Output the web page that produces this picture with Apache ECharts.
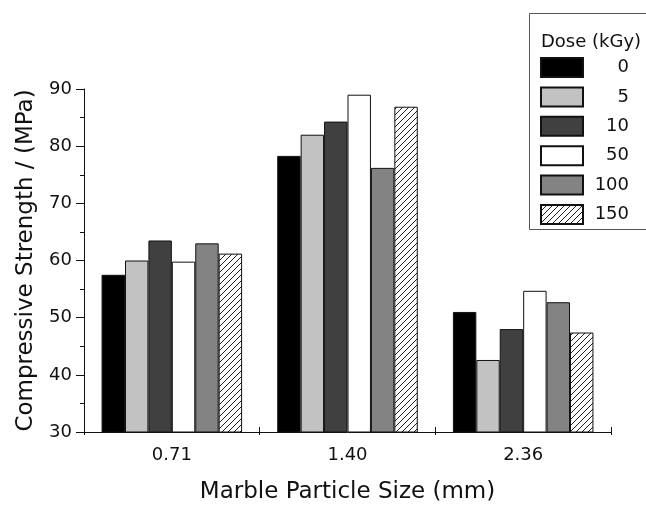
<!DOCTYPE html>
<html>
<head>
<meta charset="utf-8">
<script src="https://cdn.jsdelivr.net/npm/echarts@6/dist/echarts.min.js"></script>
<style>
html,body{margin:0;padding:0;background:#fff;}
#chart{width:646px;height:505px;}
</style>
</head>
<body>
<div id="chart"></div>
<script>
// Data
const categories = ['0.71', '1.40', '2.36'];
const doseNames = ['0', '5', '10', '50', '100', '150'];
const dose0 = [57.5, 78.3, 51.0];
const dose5 = [60.0, 82.0, 42.6];
const dose10 = [63.5, 84.3, 48.0];
const dose50 = [59.8, 89.0, 54.7];
const dose100 = [63.0, 76.2, 52.7];
const dose150 = [61.2, 86.9, 47.4];
const yTicks = [30, 40, 50, 60, 70, 80, 90];

const seriesValues = [dose0, dose5, dose10, dose50, dose100, dose150];

// hatch pattern
const pc = document.createElement('canvas');
pc.width = 6; pc.height = 6;
const g = pc.getContext('2d');
g.fillStyle = '#fff';
g.fillRect(0, 0, 6, 6);
g.strokeStyle = '#222';
g.lineWidth = 1;
g.beginPath();
g.moveTo(0, 6); g.lineTo(6, 0);
g.moveTo(-1, 1); g.lineTo(1, -1);
g.moveTo(5, 7); g.lineTo(7, 5);
g.stroke();

const fills = ['#000000', '#c2c2c2', '#404040', '#ffffff', '#838383', { image: pc, repeat: 'repeat' }];

const FONT = 'DejaVu Sans';
const chart = echarts.init(document.getElementById('chart'), null, { renderer: 'canvas' });

const series = seriesValues.map((vals, i) => ({
  name: doseNames[i],
  type: 'bar',
  xAxisIndex: 0,
  yAxisIndex: 0,
  data: vals,
  barGap: '0%',
  barCategoryGap: '20%',
  itemStyle: { color: fills[i], borderColor: '#111', borderWidth: 1 },
  emphasis: { disabled: true }
}));

chart.setOption({
  animation: false,
  backgroundColor: '#fff',
  grid: { left: 84, right: 35, top: 89, bottom: 73, containLabel: false, outerBoundsMode: 'none' },
  legend: {
    data: doseNames,
    orient: 'vertical',
    left: 540,
    top: 57,
    padding: 0,
    itemWidth: 42,
    itemHeight: 19,
    itemGap: 8.4,
    icon: 'rect',
    selectedMode: false,
    formatter: n => '{r|' + n + '}',
    textStyle: {
      fontFamily: FONT,
      fontSize: 18,
      color: '#111',
      rich: { r: { width: 41, align: 'right', fontFamily: FONT, fontSize: 18, lineHeight: 19, color: '#111' } }
    }
  },
  graphic: [{
    type: 'rect',
    shape: { x: 529.5, y: 13.5, width: 140, height: 216 },
    style: { fill: 'none', stroke: '#555', lineWidth: 1 },
    silent: true
  }, {
    type: 'text',
    left: 541,
    top: 33,
    style: { text: 'Dose (kGy)', font: '18px "DejaVu Sans"', fill: '#111' }
  }],
  xAxis: [{
    type: 'category',
    data: categories,
    position: 'bottom',
    axisLine: { lineStyle: { color: '#111', width: 1 } },
    axisTick: { show: true, length: 3, lineStyle: { color: '#111' } },
    axisLabel: { fontFamily: FONT, fontSize: 18, color: '#111', margin: 14 },
    name: 'Marble Particle Size (mm)',
    nameLocation: 'middle',
    nameGap: 49,
    nameTextStyle: { fontFamily: FONT, fontSize: 23, color: '#111' }
  }, {
    type: 'category',
    data: categories,
    position: 'bottom',
    axisLine: { show: false },
    axisTick: { show: true, inside: true, length: 5, lineStyle: { color: '#111' } },
    axisLabel: { show: false }
  }],
  yAxis: {
    type: 'value',
    min: yTicks[0],
    max: yTicks[yTicks.length - 1],
    interval: 10,
    splitLine: { show: false },
    axisLine: { show: true, lineStyle: { color: '#111', width: 1 } },
    axisTick: { show: true, length: 8, lineStyle: { color: '#111' } },
    minorTick: { show: true, splitNumber: 2, length: 4, lineStyle: { color: '#111' } },
    axisLabel: { fontFamily: FONT, fontSize: 18, color: '#111', margin: 12 },
    name: 'Compressive Strength / (MPa)',
    nameLocation: 'middle',
    nameGap: 46,
    nameTextStyle: { fontFamily: FONT, fontSize: 23, color: '#111' }
  },
  series: series
});
</script>
</body>
</html>
